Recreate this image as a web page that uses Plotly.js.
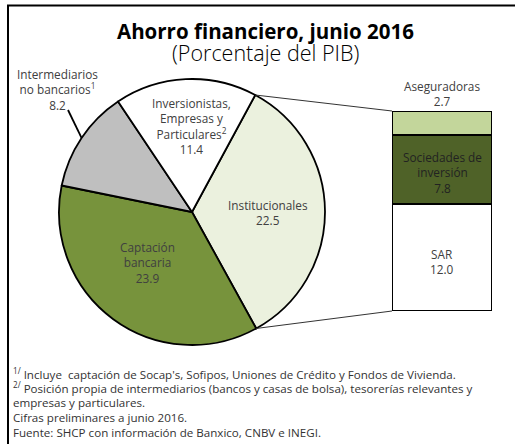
<!DOCTYPE html>
<html>
<head>
<meta charset="utf-8">
<script src="https://cdn.plot.ly/plotly-3.0.1.min.js"></script>
<style>
html,body{margin:0;padding:0;background:#fff;overflow:hidden;}
#chart{width:515px;height:444px;}
</style>
</head>
<body>
<div id="chart"></div>
<script>
// ---- data ----
const pieLabels = ["Institucionales", "Captación bancaria", "Intermediarios no bancarios", "Inversionistas, Empresas y Particulares"];
const pieValues = [22.5, 23.9, 8.2, 11.4];
const pieColors = ["#EBF1DE", "#77933C", "#BFBFBF", "#FFFFFF"];
const pieText = ["Institucionales", "Captación<br>bancaria", "Intermediarios<br>no bancarios<sup>1</sup>", "Inversionistas,<br>Empresas y<br>Particulares<sup>2</sup>"];

const barLabels = ["SAR", "Sociedades de<br>inversión", "Aseguradoras"];
const barValues = [12.0, 7.8, 2.7];
const barColors = ["#FFFFFF", "#4F6228", "#C3D69B"];

const titleText = "<b>Ahorro financiero, junio 2016</b>";
const subtitleText = "(Porcentaje del PIB)";
const footnotes = [
  "<sup>1/</sup> Incluye  captación de Socap's, Sofipos, Uniones de Crédito y Fondos de Vivienda.",
  "<sup>2/</sup> Posición propia de intermediarios (bancos y casas de bolsa), tesorerías relevantes y",
  "empresas y particulares.",
  "Cifras preliminares a junio 2016.",
  "Fuente: SHCP con información de Banxico, CNBV e INEGI."
];

// ---- geometry ----
const W = 515, H = 444;
const FONT = "'Open Sans', sans-serif";
const TXT = "#404040";
const pieCx = 192, pieCy = 212, pieR = 133;
const rotation = 28.4;
const px = x => x / W;
const py = y => 1 - y / H;

const barDomX = [px(392), px(492)];
const barDomY = [py(311), py(111)];

const total = pieValues.reduce((a, b) => a + b, 0);
function arcPoint(deg) {
  const a = deg * Math.PI / 180;
  return [pieCx + pieR * Math.sin(a), pieCy - pieR * Math.cos(a)];
}
const bounds = [rotation];
pieValues.forEach((v, i) => bounds.push(bounds[i] + 360 * v / total));

const barTotal = barValues.reduce((a, b) => a + b, 0);

const traces = [{
  type: "pie",
  labels: pieLabels,
  values: pieValues,
  sort: false,
  direction: "clockwise",
  rotation: rotation,
  marker: {colors: pieColors, line: {color: "#000", width: 1.8}},
  textinfo: "none",
  hoverinfo: "label+value",
  showlegend: false,
  domain: {x: [px(pieCx - pieR), px(pieCx + pieR)], y: [py(pieCy + pieR), py(pieCy - pieR)]}
}];
barLabels.forEach((l, i) => {
  traces.push({
    type: "bar",
    x: ["b"],
    y: [barValues[i]],
    name: l,
    width: 1,
    marker: {color: barColors[i], line: {color: "#000", width: 2}},
    xaxis: "x", yaxis: "y",
    showlegend: false,
    hoverinfo: "y"
  });
});

const ann = [];
function A(o) { return Object.assign({showarrow: false, xanchor: "center", yanchor: "middle", align: "center"}, o); }
ann.push(A({xref: "paper", yref: "paper", x: px(265), y: py(31), text: titleText,
  font: {family: FONT, size: 20.5, color: "#000"}}));
ann.push(A({xref: "paper", yref: "paper", x: px(265), y: py(52), text: subtitleText,
  font: {family: FONT, size: 21.5, color: "#000", weight: 300}}));

const pieLabelPos = [[268, 212], [148, 262], [57, 89], [191, 126]];
pieValues.forEach((v, i) => {
  ann.push(A({xref: "paper", yref: "paper", x: px(pieLabelPos[i][0]), y: py(pieLabelPos[i][1]),
    text: pieText[i] + "<br>" + v.toFixed(1),
    font: {family: FONT, size: 11.8, color: TXT}}));
});
const barMid = [];
let acc = 0;
barValues.forEach((v, i) => { barMid.push(acc + v / 2); acc += v; });
barValues.forEach((v, i) => {
  if (i === barValues.length - 1) {
    ann.push(A({xref: "x", yref: "y", x: "b", y: acc, yanchor: "bottom", yshift: 0,
      text: barLabels[i] + "<br>" + v.toFixed(1),
      font: {family: FONT, size: 11.8, color: TXT}}));
  } else {
    ann.push(A({xref: "x", yref: "y", x: "b", y: barMid[i] - (i === 1 ? 0.3 : 0.4),
      text: barLabels[i] + "<br>" + v.toFixed(1),
      font: {family: FONT, size: 11.8, color: i === 1 ? "#222" : TXT}}));
  }
});
footnotes.forEach((f, i) => {
  ann.push(A({xref: "paper", yref: "paper", x: px(11), y: py(373 + i * 14.8), xanchor: "left", align: "left",
    text: f, font: {family: FONT, size: 11.6, color: "#333"}}));
});

const pTop = arcPoint(bounds[0]);
const pBot = arcPoint(bounds[1]);
const interMid = arcPoint((bounds[2] + bounds[3]) / 2);
const shapes = [
  {type: "line", xref: "paper", yref: "paper", x0: px(pTop[0]), y0: py(pTop[1]), x1: barDomX[0], y1: barDomY[1],
    line: {color: "#333", width: 1}},
  {type: "line", xref: "paper", yref: "paper", x0: px(pBot[0]), y0: py(pBot[1]), x1: barDomX[0], y1: barDomY[0],
    line: {color: "#333", width: 1}},
  {type: "line", xref: "paper", yref: "paper", x0: px(interMid[0]), y0: py(interMid[1]), x1: px(68), y1: py(110),
    line: {color: "#000", width: 1.8}},
  {type: "line", xref: "paper", yref: "paper", x0: px(7), y0: py(5.5), x1: 1, y1: py(5.5), line: {color: "#000", width: 2}},
  {type: "line", xref: "paper", yref: "paper", x0: px(8), y0: py(5), x1: px(8), y1: 0, line: {color: "#000", width: 2}}
];

const layout = {
  width: W, height: H,
  margin: {l: 0, r: 0, t: 0, b: 0, pad: 0},
  paper_bgcolor: "#fff", plot_bgcolor: "rgba(0,0,0,0)",
  barmode: "stack",
  bargap: 0,
  xaxis: {domain: barDomX, range: [-0.5, 0.5], visible: false, fixedrange: true},
  yaxis: {domain: barDomY, range: [0, barTotal], visible: false, fixedrange: true},
  annotations: ann,
  shapes: shapes,
  showlegend: false
};

Plotly.newPlot("chart", traces, layout, {displayModeBar: false, staticPlot: true});
</script>
</body>
</html>
